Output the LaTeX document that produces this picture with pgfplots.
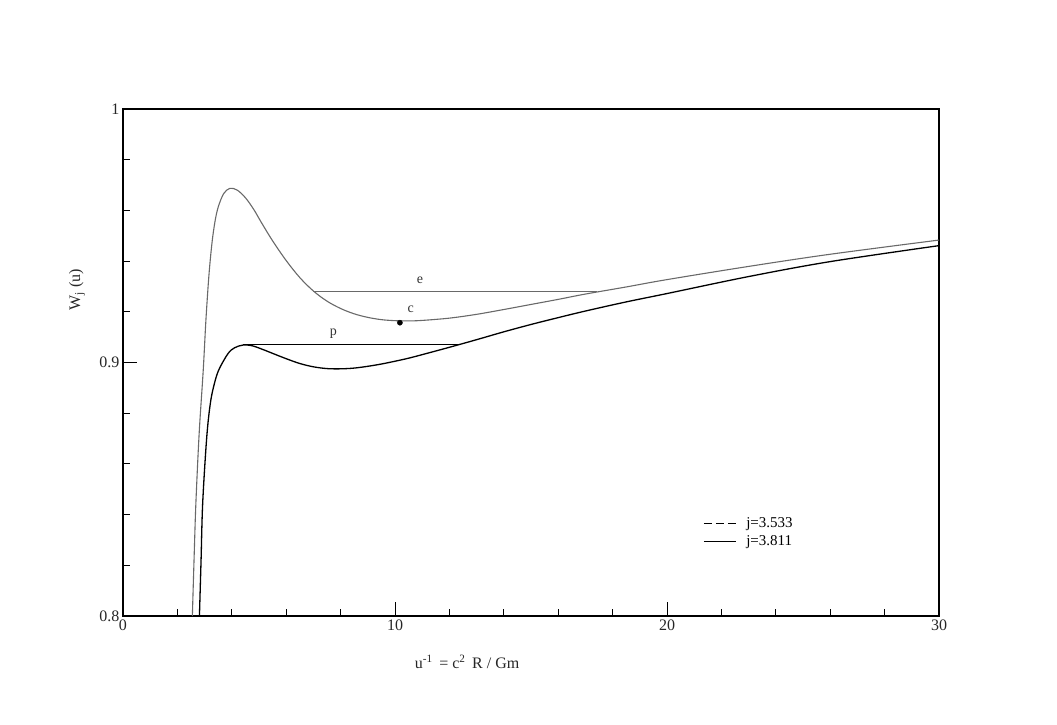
\documentclass[border=0pt]{standalone}
\usepackage{pgfplots}
\pgfplotsset{compat=1.18}
\usepackage{fontspec}
\setmainfont{Liberation Serif}
\definecolor{cgray}{RGB}{105,105,105}
\begin{document}
\begin{tikzpicture}[x=1pt,y=1pt]
\path[use as bounding box] (-123,-109) rectangle (934,616);
\begin{axis}[
 at={(0,0)}, anchor=south west,
 scale only axis, width=816pt, height=507pt,
 xmin=0,xmax=30,ymin=0.8,ymax=1,
 axis line style={line width=1.3pt},
 xtick={0,10,20,30}, minor xtick={2,4,6,8,12,14,16,18,22,24,26,28},
 ytick={0.8,0.9,1}, minor ytick={0.82,0.84,0.86,0.88,0.92,0.94,0.96,0.98},
 tick align=inside, xtick pos=bottom, ytick pos=left,
 major tick length=14pt, minor tick length=7pt,
 tick style={black, line width=1pt},
 /pgf/number format/assume math mode=true,
 ticklabel style={font=\fontsize{16}{18}\selectfont, text=black!85},
 xlabel={u\textsuperscript{-1} \,= c\textsuperscript{2} \,R / Gm},
 ylabel={W\textsubscript{j} (u)},
 label style={font=\fontsize{16}{18}\selectfont, text=black!85},
 xlabel style={at={(axis description cs:0.4216,0)}, anchor=center, yshift=-46pt},
 ylabel style={at={(axis description cs:-0.0564,0.643)}, anchor=center},
 legend style={draw=none, fill=none, at={(axis description cs:0.7108,0.1647)}, anchor=west,
   font=\fontsize{15}{17}\selectfont, row sep=3pt, inner sep=0pt},
 legend cell align=left,
 legend image code/.code={\draw[#1] (0pt,0pt) -- (32pt,0pt); \path (40pt,0pt);},
 clip=true,
]
% j = 3.811 (upper, grey)
\addplot[cgray, line width=1.1pt, smooth, tension=0.55, forget plot] coordinates {
(2.55,0.80) (2.62,0.825) (2.68,0.8446) (2.80,0.872) (2.95,0.897) (3.05,0.917)
(3.16,0.9345) (3.27,0.947) (3.38,0.9555) (3.5,0.9613) (3.7,0.9666) (3.93,0.9687)
(4.2,0.9680) (4.5,0.9650) (4.8,0.9605) (5.1,0.9550) (5.5,0.9480) (6.0,0.9402) (6.5,0.9335)
(7.0,0.9282) (7.5,0.9242) (8.0,0.9213) (8.5,0.9192) (9.0,0.9178) (9.5,0.9169)
(10.0,0.9165) (10.5,0.9164) (11.0,0.9166) (12.0,0.9175) (13.0,0.9190) (14.0,0.9209)
(15.0,0.9229) (16.0,0.9249) (17.0,0.9270) (18.5,0.9298) (20,0.9327) (23,0.9379)
(26,0.9427) (30,0.9483)
};
% j = 3.533 (lower, black)
\addplot[black, line width=1.3pt, smooth, tension=0.55, forget plot] coordinates {
(2.81,0.80) (2.87,0.822) (2.93,0.8446) (3.08,0.8707) (3.22,0.8845) (3.38,0.8925)
(3.54,0.8975) (3.86,0.9035) (4.1,0.9058) (4.42,0.9069) (4.75,0.9066) (5.1,0.9053) (5.5,0.9036)
(6.0,0.9015) (6.5,0.8996) (7.0,0.8983) (7.5,0.8976) (8.0,0.8975) (8.5,0.8978)
(9.0,0.8985) (9.5,0.8994) (10.0,0.9005) (10.5,0.9017) (11.0,0.9031) (12.0,0.9060)
(13.0,0.9090) (14.0,0.9121) (15.0,0.9150) (16.0,0.9177) (17.0,0.9203) (18.5,0.9239)
(20,0.9272) (23,0.9339) (26,0.9398) (30,0.9461)
};
% horizontal tie lines
\addplot[cgray, line width=1.1pt, forget plot] coordinates {(7.0,0.9280) (17.42,0.9280)};
\addplot[black, line width=1.1pt, forget plot] coordinates {(4.42,0.907) (12.35,0.907)};
% critical point
\addplot[only marks, mark=*, mark size=2.6pt, black, forget plot] coordinates {(10.18,0.9157)};
\node[font=\fontsize{14}{16}\selectfont, text=black!80] at (axis cs:10.92,0.9325) {e};
\node[font=\fontsize{14}{16}\selectfont, text=black!80] at (axis cs:10.58,0.921) {c};
\node[font=\fontsize{14}{16}\selectfont, text=black!80] at (axis cs:7.73,0.9115) {p};
\addlegendimage{black, line width=1.1pt, dash pattern=on 8pt off 4pt}
\addlegendentry{j=3.533}
\addlegendimage{black, line width=1.1pt}
\addlegendentry{j=3.811}
\end{axis}
\end{tikzpicture}
\end{document}
